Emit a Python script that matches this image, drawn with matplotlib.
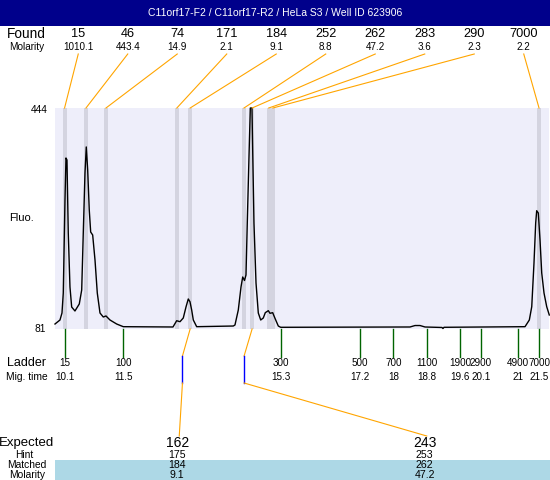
import matplotlib
matplotlib.use("Agg")
import matplotlib.pyplot as plt
from matplotlib.patches import Rectangle
import numpy as np

plt.rcParams['font.family'] = ['Liberation Sans', 'DejaVu Sans']

TITLE = "C11orf17-F2 / C11orf17-R2 / HeLa S3 / Well ID 623906"

# Trace (migration time s, fluorescence)
trace_t = [9.86, 9.98, 10.028, 10.059, 10.10, 10.124, 10.148, 10.155, 10.179, 10.22,
           10.261, 10.34, 10.444, 10.502, 10.54, 10.581, 10.612, 10.646, 10.684, 10.718,
           10.766, 10.822, 10.877, 10.942, 11.021, 11.086, 11.182, 11.343, 11.502, 12.697,
           12.786, 12.866, 12.945, 13.01, 13.065, 13.106, 13.147, 13.186, 13.267, 14.148,
           14.188, 14.268, 14.333, 14.374, 14.417, 14.453, 14.484, 14.525, 14.557, 14.597,
           14.614, 14.645, 14.694, 14.749, 14.807, 14.869, 14.917, 14.99, 15.03, 15.095,
           15.15, 15.23, 15.287, 18.397, 18.518, 18.638, 18.758, 19.167, 19.19, 19.215,
           21.163, 21.267, 21.325, 21.379, 21.42, 21.444, 21.483, 21.524, 21.565, 21.62,
           21.685, 21.747]
trace_f = [89.2, 95.8, 107.3, 140.1, 292.9, 361.9, 358.6, 330.7, 238.7, 150.0,
           117.1, 110.6, 122.1, 145.1, 238.7, 337.2, 380.0, 342.2, 276.5, 240.3,
           235.4, 194.3, 140.1, 107.3, 100.7, 102.4, 95.8, 89.2, 84.8, 84.3,
           94.6, 93.0, 99.1, 117.1, 130.3, 125.8, 112.2, 95.8, 84.8, 85.9,
           87.6, 112.2, 150.0, 166.4, 160.7, 169.7, 255.1, 363.5, 444.0, 444.0,
           375.0, 255.1, 156.6, 107.3, 95.8, 99.1, 107.8, 111.1, 106.8, 107.8,
           98.6, 85.9, 83.8, 84.3, 86.7, 86.7, 84.3, 83.5, 81.8, 83.8,
           84.8, 95.8, 117.6, 189.4, 255.1, 275.3, 271.5, 227.2, 173.0, 140.1,
           117.6, 104.0]

# Found peaks
found_sizes = ["15", "46", "74", "171", "184", "252", "262", "283", "290", "7000"]
found_molarity = ["1010.1", "443.4", "14.9", "2.1", "9.1", "8.8", "47.2", "3.6", "2.3", "2.2"]
found_times = [10.09, 10.605, 11.086, 12.79, 13.11, 14.405, 14.60, 15.0, 15.1, 21.5]

# Ladder
ladder_sizes = [15, 100, 300, 500, 700, 1100, 1900, 2900, 4900, 7000]
ladder_times = [10.1, 11.5, 15.3, 17.2, 18, 18.8, 19.6, 20.1, 21, 21.5]

# Expected table
expected = ["162", "243"]
hint = [175, 253]
matched = ["184", "262"]
matched_idx = [4, 6]
matched_molarity = ["9.1", "47.2"]

y_min, y_max = 81, 444
x_min, x_max = 9.86, 21.74

W, H = 550, 480
fig = plt.figure(figsize=(W / 100, H / 100), dpi=100)
L, R, T, B = 55, 549, 108, 329
ax = fig.add_axes([L / W, 1 - B / H, (R - L) / W, (B - T) / H])
ax.set_facecolor('#EEEEFA')
for s in ax.spines.values():
    s.set_visible(False)
ax.set_xticks([]); ax.set_yticks([])
ax.set_xlim(x_min, x_max)
ax.set_ylim(y_min, y_max)

bw = 0.096
for t in found_times:
    ax.axvspan(t - bw / 2, t + bw / 2, color='#D4D4E0', lw=0, zorder=1)
ax.plot(trace_t, trace_f, color='black', lw=1.0, zorder=3, clip_on=False)

ov = fig.add_axes([0, 0, 1, 1], facecolor='none')
ov.set_xlim(0, W); ov.set_ylim(H, 0); ov.axis('off')

def px(t):
    return L + (t - x_min) / (x_max - x_min) * (R - L)

# Title bar
ov.add_patch(Rectangle((0, 0), W, 26, color='#00008B', lw=0))
ov.text(W / 2, 13.5, TITLE, color='white', fontsize=7.5, ha='center', va='center')

# Found rows
ov.text(26, 34, "Found", fontsize=9.8, ha='center', va='center')
ov.text(27, 46.5, "Molarity", fontsize=7.2, ha='center', va='center')
n = len(found_sizes)
colw = (W - L) / n
for i in range(n):
    cx = L + (i + 0.5) * colw - 1.5
    ov.text(cx, 34, found_sizes[i], fontsize=9.2, ha='center', va='center')
    ov.text(cx, 46.5, found_molarity[i], fontsize=7.1, ha='center', va='center')
    ov.plot([cx, px(found_times[i])], [54, T], color='#FFA500', lw=0.8)

# Y labels
ov.text(48, T + 2, str(y_max), fontsize=7.4, ha='right', va='center')
ov.text(46, B, str(y_min), fontsize=7.4, ha='right', va='center')
ov.text(22, 218, "Fluo.", fontsize=8, ha='center', va='center')

# Ladder
ov.text(27, 363, "Ladder", fontsize=9, ha='center', va='center')
ov.text(26.5, 377, "Mig. time", fontsize=7.4, ha='center', va='center')
for s, t in zip(ladder_sizes, ladder_times):
    x = px(t)
    ov.plot([x, x], [B, 357], color='#006400', lw=1.0)
    ov.text(x, 363, str(s), fontsize=7.1, ha='center', va='center')
    ov.text(x, 377, f"{t:g}", fontsize=7.1, ha='center', va='center')

# Expected table
ov.add_patch(Rectangle((L, 460), W - L, 20, color='#ADD8E6', lw=0))
ov.text(27, 443, "Expected", fontsize=9.5, ha='center', va='center')
ov.text(24, 454.5, "Hint", fontsize=7.4, ha='center', va='center')
ov.text(26.5, 465, "Matched", fontsize=7.4, ha='center', va='center')
ov.text(27.5, 475, "Molarity", fontsize=7.4, ha='center', va='center')
ncol = len(expected)
ecw = (W - L) / ncol
for j in range(ncol):
    cx = L + (j + 0.5) * ecw - 1.5
    ov.text(cx, 443, expected[j], fontsize=10, ha='center', va='center')
    ov.text(cx, 454.5, str(hint[j]), fontsize=7.6, ha='center', va='center')
    ov.text(cx, 465, matched[j], fontsize=7.6, ha='center', va='center')
    ov.text(cx, 475, matched_molarity[j], fontsize=7.6, ha='center', va='center')
    hx = px(np.interp(hint[j], ladder_sizes, ladder_times))
    mx = px(found_times[matched_idx[j]])
    ov.plot([mx, hx], [B, 356], color='#FFA500', lw=0.8)
    ov.plot([hx, hx], [356, 383], color='#0000FF', lw=1.0)
    ov.plot([hx, cx + 2], [383, 436], color='#FFA500', lw=0.8)

fig.savefig("out.png", dpi=100)
